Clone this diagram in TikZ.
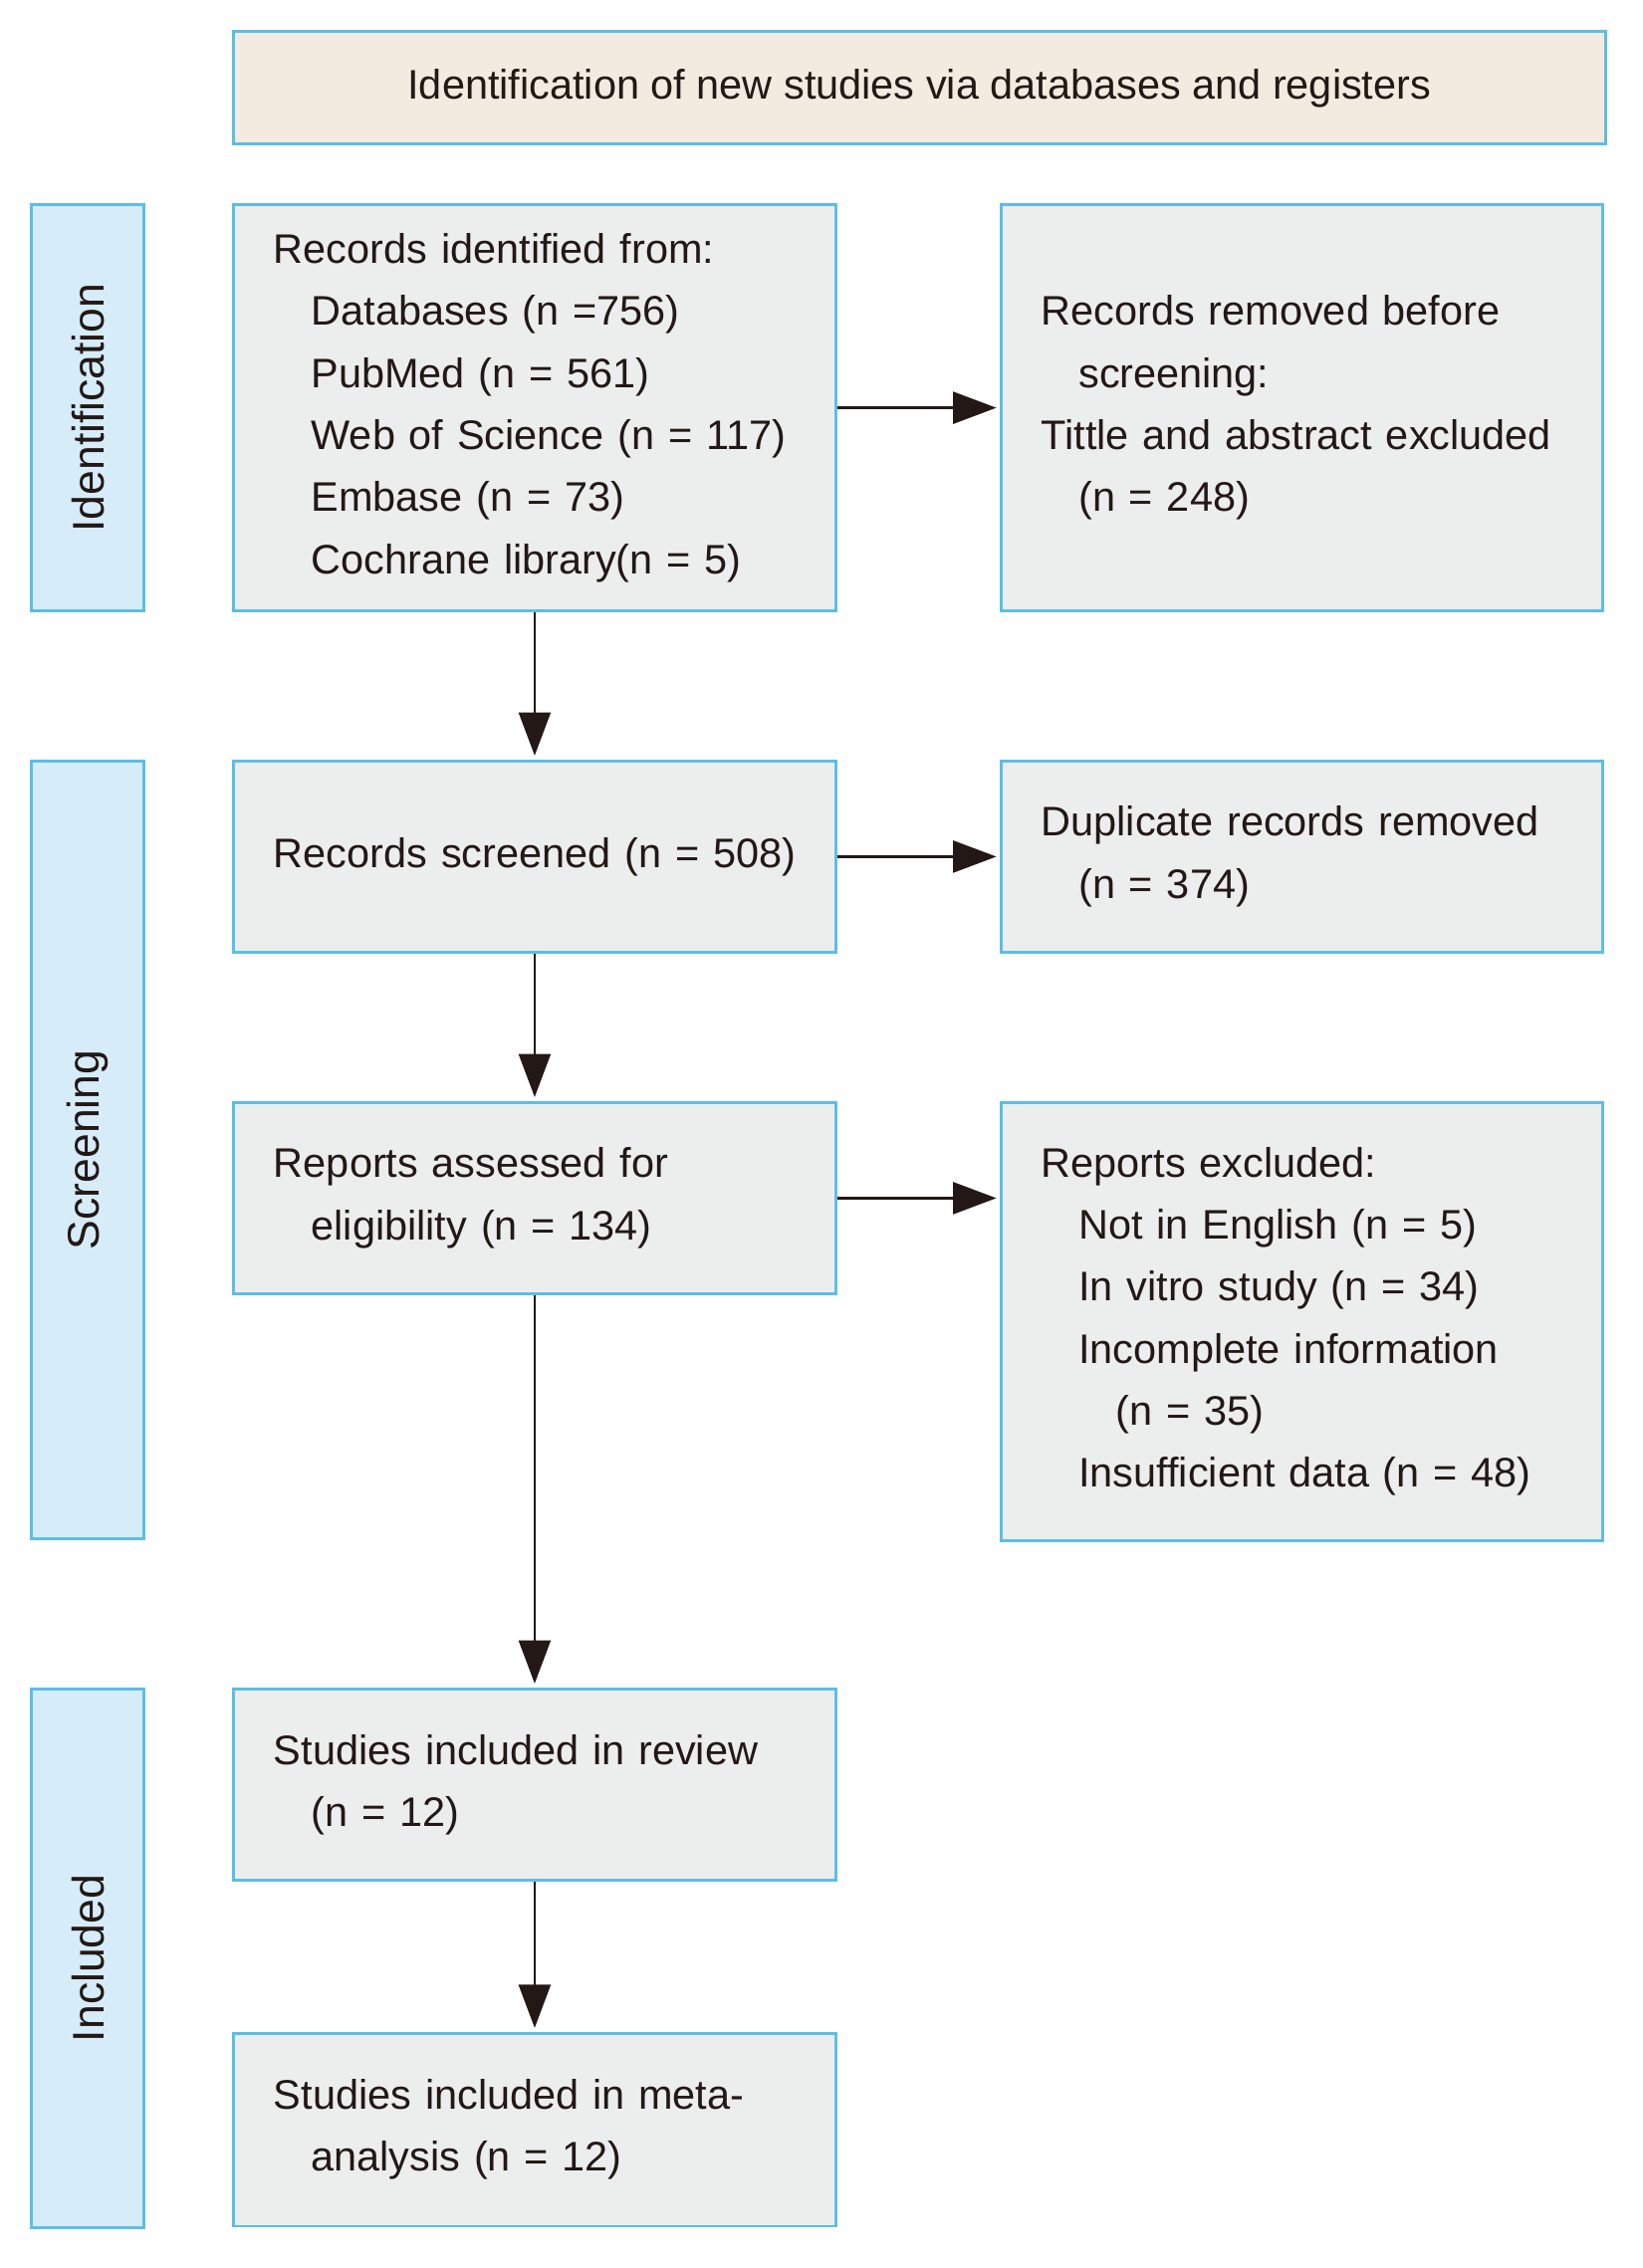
\documentclass[tikz,border=0pt]{standalone}
\usepackage{fontspec}
\setmainfont{Liberation Sans}
\usetikzlibrary{arrows.meta}
\definecolor{lineblue}{RGB}{91,190,230}
\definecolor{boxgrey}{RGB}{236,238,237}
\definecolor{headbeige}{RGB}{243,235,224}
\definecolor{sideblue}{RGB}{214,236,248}
\definecolor{ink}{RGB}{35,24,21}
\newcommand{\ind}{\hspace*{0.52cm}}
\begin{document}
\begin{tikzpicture}
  [every node/.style={draw=lineblue,line width=1.1pt,fill=boxgrey,text=ink,inner sep=0pt,
     font=\fontsize{16.3}{24.5}\selectfont}]
  \tikzstyle{box} = [align=left,text width=7.24cm,minimum width=8.36cm,minimum height=2.66cm]
  \tikzstyle{side} = [fill=sideblue,rotate=90,minimum height=1.56cm,font=\fontsize{17.5}{20}\selectfont]
  \tikzstyle{arr} = [draw=ink,line width=1.1pt,shorten >=1.5pt,-{Triangle[length=0.6cm,width=0.44cm]}]
  \useasboundingbox (0,0) rectangle (22.8,-31.48);
  \node[fill=headbeige,minimum width=19.04cm,minimum height=1.56cm] (head) at (12.76,-1.22)
    {Identification of new studies via databases and registers};
  % phases
  \node[side,minimum width=5.64cm] (pid) at (1.22,-5.66) {Identification};
  \node[side,minimum width=10.8cm] (pscr) at (1.22,-15.96) {Screening};
  \node[side,minimum width=7.48cm] (pinc) at (1.22,-27.18) {Included};
  % main column
  \node[box,minimum height=5.64cm] (rec) at (7.42,-5.66)
    {Records identified from:\\ \ind Databases (n =756)\\ \ind PubMed (n = 561)\\
     \ind Web of Science (n = 117)\\ \ind Embase (n = 73)\\ \ind Cochrane library(n = 5)};
  \node[box] (scr) at (7.42,-11.89) {\mbox{Records screened (n = 508)}};
  \node[box] (ass) at (7.42,-16.63) {Reports assessed for\\ \ind eligibility (n = 134)};
  \node[box] (rev) at (7.42,-24.77) {Studies included in review\\ \ind (n = 12)};
  \node[box,minimum height=2.68cm] (meta) at (7.42,-29.56) {Studies included in meta-\\ \ind analysis (n = 12)};
  % excluded column
  \node[box,minimum width=8.34cm,minimum height=5.64cm] (rem) at (18.07,-5.66)
    {Records removed before\\ \ind screening:\\ Tittle and abstract excluded\\ \ind (n = 248)};
  \node[box,minimum width=8.34cm] (dup) at (18.07,-11.89) {Duplicate records removed\\ \ind (n = 374)};
  \node[box,minimum width=8.34cm,minimum height=6.08cm] (exc) at (18.07,-18.34)
    {Reports excluded:\\ \ind Not in English (n = 5)\\ \ind In vitro study (n = 34)\\
     \ind Incomplete information\\ \ind\ind (n = 35)\\ \ind Insufficient data (n = 48)};
  \foreach \source/\dest in {rec/scr,scr/ass,ass/rev,rev/meta,rec/rem,scr/dup,ass.east/ass.east -| exc.west}
    \draw[arr] (\source) -- (\dest);
\end{tikzpicture}
\end{document}
